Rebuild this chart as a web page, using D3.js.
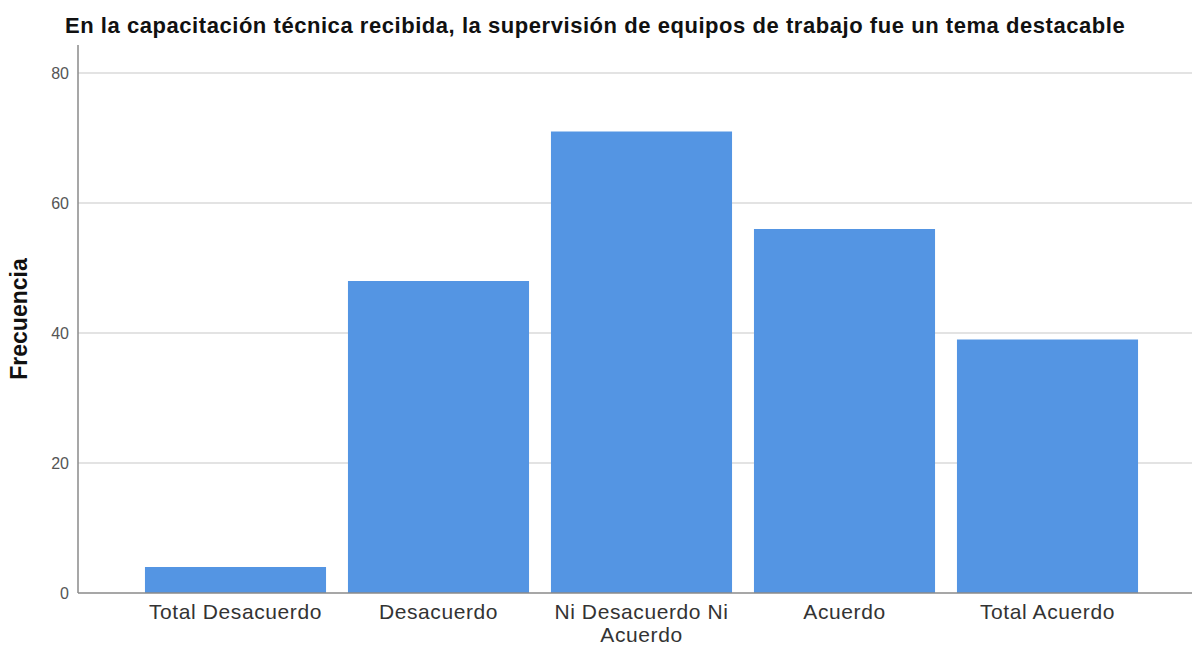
<!DOCTYPE html>
<html>
<head>
<meta charset="utf-8">
<script src="https://cdn.jsdelivr.net/npm/d3@7"></script>
<style>
  body { margin: 0; background: #fff; }
  svg { display: block; font-family: "Liberation Sans", Arial, sans-serif; }
</style>
</head>
<body>
<div class="graph"></div>
<script>
"use strict";

var categories = [["Total Desacuerdo"], ["Desacuerdo"], ["Ni Desacuerdo Ni", "Acuerdo"], ["Acuerdo"], ["Total Acuerdo"]];
var frequencies = [4, 48, 71, 56, 39];
var yTicks = [0, 20, 40, 60, 80];

var width = 1194;
var height = 647;
var axisLeft = 78;
var plotRight = 1192;
var baseY = 593;
var topY = 73;

var svg = d3.select(".graph").append("svg").attr("width", width).attr("height", height);

var names = categories.map(function (c) { return c.join(" "); });

var xScale = d3.scaleBand().domain(names).range([134, 1149]).paddingInner(0.108).paddingOuter(0.054);
var yScale = d3.scaleLinear().domain([0, 80]).range([baseY, topY]);

// gridlines
svg.append("g").selectAll("line").data(yTicks.slice(1)).enter().append("line")
    .attr("x1", axisLeft).attr("x2", plotRight)
    .attr("y1", function (d) { return yScale(d); })
    .attr("y2", function (d) { return yScale(d); })
    .attr("stroke", "#dadada").attr("stroke-width", 1.5);

// bars
svg.append("g").selectAll("rect").data(frequencies).enter().append("rect")
    .attr("x", function (_, i) { return xScale(names[i]); })
    .attr("y", function (d) { return yScale(d); })
    .attr("width", xScale.bandwidth())
    .attr("height", function (d) { return baseY - yScale(d); })
    .attr("fill", "#5495e3");

// y axis
var yAxis = d3.axisLeft(yScale).tickValues(yTicks).tickSize(0).tickPadding(9);
var yG = svg.append("g").attr("transform", "translate(" + axisLeft + ",0)").call(yAxis);
yG.select(".domain").remove();
yG.selectAll("text").attr("font-size", 16).attr("fill", "#555").style("font-family", "Liberation Sans, Arial, sans-serif");

svg.append("line").attr("x1", axisLeft).attr("x2", axisLeft).attr("y1", 45).attr("y2", baseY)
    .attr("stroke", "#8a8a8a").attr("stroke-width", 1.5);
svg.append("line").attr("x1", axisLeft).attr("x2", plotRight).attr("y1", baseY).attr("y2", baseY)
    .attr("stroke", "#8a8a8a").attr("stroke-width", 1.5);

// x labels
var xLabels = svg.append("g").selectAll("text").data(categories).enter().append("text")
    .attr("x", function (_, i) { return xScale(names[i]) + xScale.bandwidth() / 2; })
    .attr("y", 619)
    .attr("text-anchor", "middle")
    .attr("font-size", 21)
    .style("letter-spacing", "0.6px")
    .attr("fill", "#333");
xLabels.selectAll("tspan").data(function (d) { return d; }).enter().append("tspan")
    .attr("x", function () { return d3.select(this.parentNode).attr("x"); })
    .attr("dy", function (_, i) { return i === 0 ? 0 : 23; })
    .text(function (d) { return d; });

// axis title
svg.append("text").attr("transform", "translate(27,319) rotate(-90)")
    .attr("text-anchor", "middle").attr("font-size", 23).attr("font-weight", "bold").attr("fill", "#111")
    .text("Frecuencia");

// chart title
svg.append("text").attr("x", 65).attr("y", 33)
    .attr("font-size", 22).attr("font-weight", "bold").attr("fill", "#111")
    .style("letter-spacing", "0.55px")
    .text("En la capacitación técnica recibida, la supervisión de equipos de trabajo fue un tema destacable");
</script>
</body>
</html>
